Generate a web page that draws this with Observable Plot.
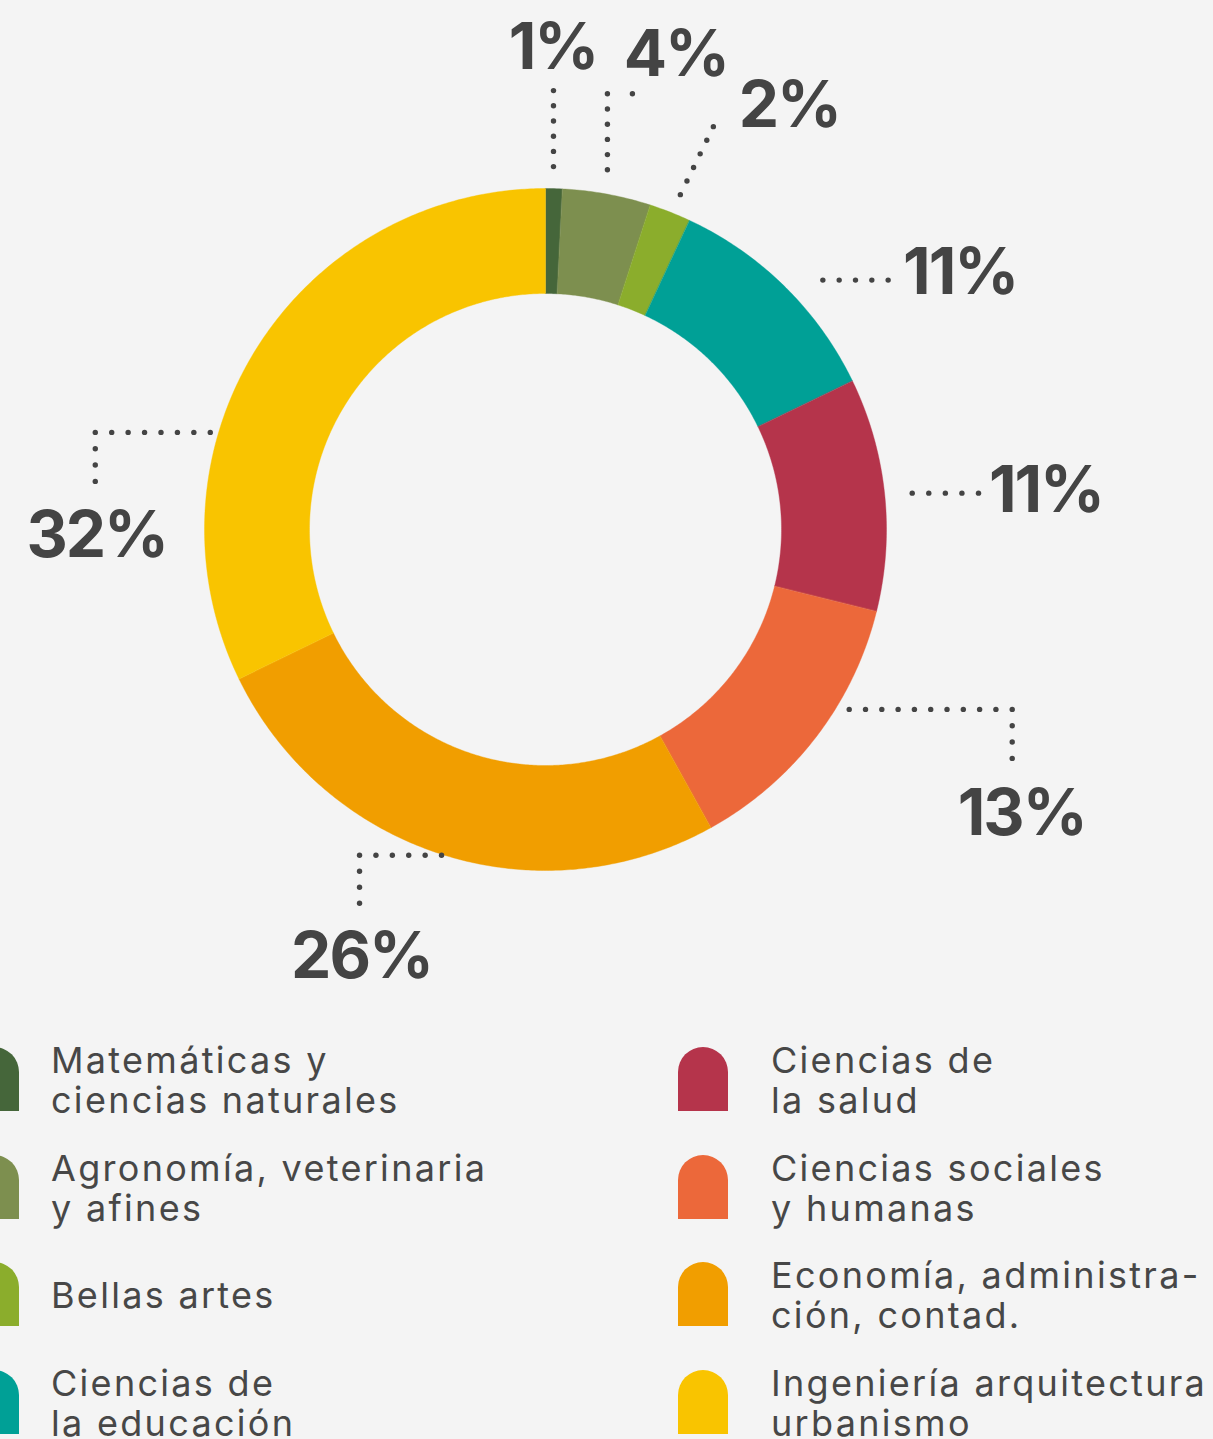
<!DOCTYPE html>
<html><head><meta charset="utf-8">
<script src="https://cdn.jsdelivr.net/npm/d3@7"></script>
<script src="https://cdn.jsdelivr.net/npm/@observablehq/plot@0.6"></script>
<style>
html,body{margin:0;padding:0;background:#f4f4f4;width:1213px;height:1439px;overflow:hidden;}
#chart svg{display:block;}
#chart text{letter-spacing:-2px;}
#legend{position:relative;width:1213px;height:419px;font-family:Inter,"Noto Sans",sans-serif;color:#474747;}
.sw{position:absolute;width:50px;height:64px;border-radius:25px 25px 0 0;}
.lbl{position:absolute;font-size:36px;line-height:40px;transform:translateY(-50%);white-space:nowrap;letter-spacing:2.3px;}
</style></head>
<body>
<div id="chart"></div>
<div id="legend"></div>
<script>
// ---- data ----
const categories = [
  "Matemáticas y\nciencias naturales",
  "Agronomía, veterinaria\ny afines",
  "Bellas artes",
  "Ciencias de\nla educación",
  "Ciencias de\nla salud",
  "Ciencias sociales\ny humanas",
  "Economía, administra-\nción, contad.",
  "Ingeniería arquitectura\nurbanismo"
];
const values = [0.79, 4.18, 1.97, 10.89, 11.03, 13.08, 25.84, 32.22];
const colors = ["#45663a", "#7d8f4f", "#8bad2c", "#00a096", "#b5344b", "#ec683a", "#f19e00", "#f9c400"];

// ---- layout ----
const W = 1213, H = 1020, CX = 545, CY = 529, R = 341, RI = 236;
// label leaders: angle nudge (deg), anchor radius, segments [dx, dy, dots], label offset [dx, dy]
const leaderLayout = [
  {nudge: -0.16, r: 363, segs: [[0, -76, 5]], label: [-0.5, -98]},
  {nudge: -0.6, r: 365, segs: [[0, -76, 5], [25, 0, 1]], label: [68.5, -94]},
  {nudge: 0.5, r: 361, segs: [[33, -68, 5]], label: [109, -68]},
  {nudge: 3.45, r: 373, segs: [[65.3, 0, 4]], label: [137.3, 13.7]},
  {nudge: 0.3, r: 368.5, segs: [[66.3, 0, 4]], label: [133.8, 19.3]},
  {nudge: -6.8, r: 353, segs: [[163, 0, 10], [0, 49, 3]], label: [172.5, 126]},
  {nudge: 0.2, r: 342, segs: [[-82, 0, 5], [0, 48, 3]], label: [-80, 123]},
  {nudge: -15.85, r: 349, segs: [[-115, 0, 7], [0, 49, 3]], label: [-113.5, 125]}
];

const total = d3.sum(values);
const rad = d => d * Math.PI / 180;
const polar = (deg, r) => [r * Math.sin(rad(deg)), -r * Math.cos(rad(deg))];

const slicePts = [];
const dots = [];
const labels = [];
let cum = 0;
values.forEach((v, i) => {
  const a0 = cum / total * 360, a1 = (cum + v) / total * 360;
  cum += v;
  const n = Math.max(2, Math.ceil((a1 - a0) / 0.5));
  for (let k = 0; k <= n; k++) {
    const [x, y] = polar(a0 + (a1 - a0) * k / n, R);
    slicePts.push({name: categories[i], x, y});
  }
  for (let k = n; k >= 0; k--) {
    const [x, y] = polar(a0 + (a1 - a0) * k / n, RI);
    slicePts.push({name: categories[i], x, y});
  }
  const L = leaderLayout[i];
  let [px, py] = polar((a0 + a1) / 2 + L.nudge, L.r);
  const ax = px, ay = py;
  dots.push({x: px, y: py});
  for (const [dx, dy, m] of L.segs) {
    for (let k = 1; k <= m; k++) dots.push({x: px + dx * k / m, y: py + dy * k / m});
    px += dx; py += dy;
  }
  labels.push({x: ax + L.label[0], y: ay + L.label[1], text: Math.round(v) + "%"});
});

const chart = Plot.plot({
  width: W, height: H, margin: 0,
  x: {domain: [-CX, W - CX], range: [0, W], axis: null},
  y: {domain: [-CY, H - CY], range: [0, H], axis: null},
  color: {domain: categories, range: colors},
  style: {background: "transparent", overflow: "visible"},
  marks: [
    Plot.line(slicePts, {x: "x", y: "y", z: "name", fill: "name", stroke: "name", strokeWidth: 0.4, curve: "linear-closed"}),
    Plot.dot(dots, {x: "x", y: "y", r: 2.7, fill: "#444", stroke: null}),
    Plot.text(labels, {x: "x", y: "y", text: "text", fontSize: 64, fontWeight: 700, fill: "#444",
      fontFamily: "Inter, 'Noto Sans', sans-serif", textAnchor: "middle", lineAnchor: "bottom"})
  ]
});
document.getElementById("chart").append(chart);

// ---- legend ----
const legend = document.getElementById("legend");
categories.forEach((c, i) => {
  const col = i < 4 ? 0 : 1;
  const row = i % 4;
  const top = 1047 - H + row * 107.5;
  const sw = document.createElement("div");
  sw.className = "sw";
  sw.style.left = (col ? 678 : -31) + "px";
  sw.style.top = top + "px";
  sw.style.background = colors[i];
  legend.append(sw);
  const lb = document.createElement("div");
  lb.className = "lbl";
  lb.style.left = (col ? 771 : 51) + "px";
  lb.style.top = (top + 33) + "px";
  lb.innerHTML = c.split("\n").join("<br>");
  legend.append(lb);
});
</script>
</body></html>
